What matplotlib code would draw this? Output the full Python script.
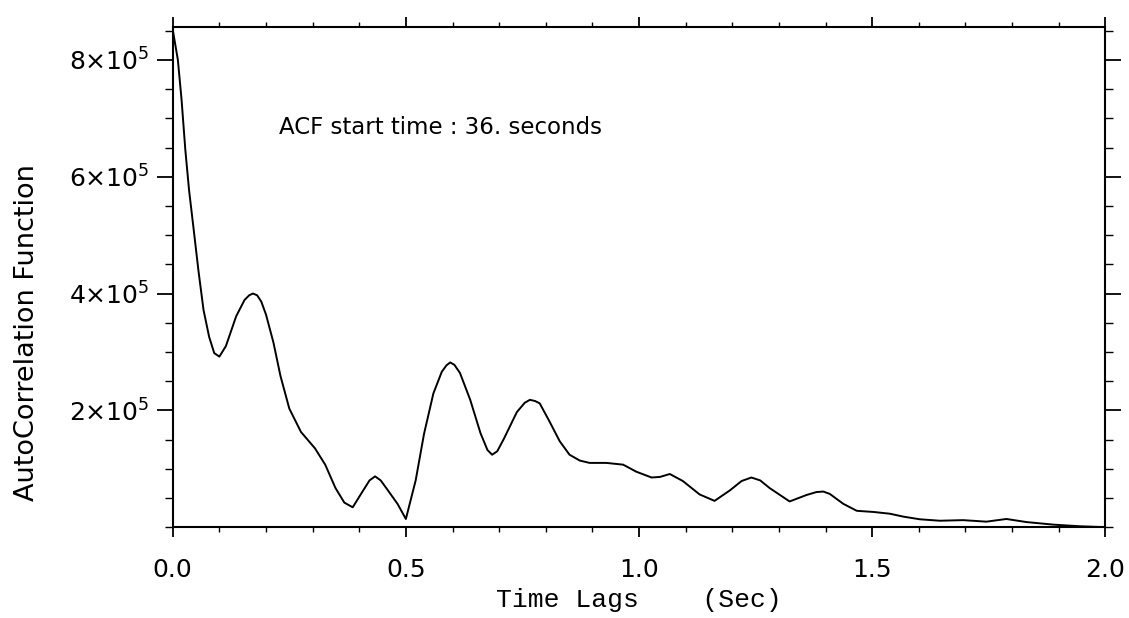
#!/usr/bin/env python

import numpy as np
import matplotlib
matplotlib.use('Agg')
import matplotlib.pyplot as plt
from matplotlib.ticker import MultipleLocator

# ACF curve (lag in sec, value in units of 1e5)
lagSec = [0.000, 0.011, 0.019, 0.027, 0.035, 0.045, 0.055, 0.066, 0.078, 0.089,
          0.100, 0.114, 0.136, 0.154, 0.164, 0.172, 0.181, 0.190, 0.200, 0.216,
          0.231, 0.250, 0.275, 0.305, 0.327, 0.349, 0.368, 0.386, 0.407, 0.422,
          0.434, 0.446, 0.457, 0.482, 0.500, 0.521, 0.539, 0.559, 0.577, 0.587,
          0.595, 0.604, 0.616, 0.638, 0.660, 0.675, 0.685, 0.696, 0.710, 0.738,
          0.755, 0.766, 0.777, 0.787, 0.808, 0.830, 0.851, 0.873, 0.894, 0.930,
          0.966, 0.994, 1.027, 1.045, 1.066, 1.094, 1.130, 1.162, 1.195, 1.220,
          1.241, 1.260, 1.280, 1.323, 1.359, 1.380, 1.395, 1.409, 1.438, 1.467,
          1.503, 1.538, 1.567, 1.602, 1.645, 1.695, 1.745, 1.788, 1.831, 1.889,
          1.946, 2.000]
acfVal = [8.52, 8.00, 7.31, 6.46, 5.77, 5.09, 4.40, 3.72, 3.26, 2.98,
          2.92, 3.10, 3.61, 3.89, 3.97, 4.00, 3.97, 3.86, 3.64, 3.16,
          2.59, 2.03, 1.63, 1.35, 1.07, 0.67, 0.42, 0.34, 0.61, 0.80,
          0.87, 0.80, 0.68, 0.40, 0.14, 0.80, 1.60, 2.29, 2.66, 2.77,
          2.82, 2.78, 2.64, 2.18, 1.61, 1.32, 1.24, 1.30, 1.51, 1.97,
          2.13, 2.18, 2.16, 2.12, 1.81, 1.47, 1.24, 1.14, 1.10, 1.10,
          1.07, 0.95, 0.85, 0.86, 0.91, 0.79, 0.56, 0.45, 0.63, 0.79,
          0.85, 0.80, 0.67, 0.44, 0.55, 0.60, 0.61, 0.57, 0.40, 0.28,
          0.26, 0.23, 0.18, 0.135, 0.11, 0.12, 0.094, 0.14, 0.087, 0.043,
          0.015, 0.0]

yTicks = [2e5, 4e5, 6e5, 8e5]
yTickLabels = [r'$2{\times}10^{5}$', r'$4{\times}10^{5}$',
               r'$6{\times}10^{5}$', r'$8{\times}10^{5}$']
xTicks = [0.0, 0.5, 1.0, 1.5, 2.0]
xTickLabels = ['0.0', '0.5', '1.0', '1.5', '2.0']

plt.rcParams['font.family'] = ['DejaVu Sans']
plt.rcParams['mathtext.fontset'] = 'dejavusans'

fig = plt.figure(figsize=(11.29, 6.18), dpi=100)
ax = fig.add_axes([0.153, 0.147, 0.826, 0.809])

ax.plot(lagSec, np.array(acfVal) * 1e5, color='black', linewidth=1.4,
        solid_joinstyle='round')

ax.set_xlim(0.0, 2.0)
ax.set_ylim(0.0, 8.56e5)

ax.set_xticks(xTicks)
ax.set_xticklabels(xTickLabels)
ax.set_yticks(yTicks)
ax.set_yticklabels(yTickLabels)
ax.xaxis.set_minor_locator(MultipleLocator(0.1))
ax.yaxis.set_minor_locator(MultipleLocator(0.5e5))

ax.tick_params(axis='x', which='major', direction='out', length=7, width=1.3,
               labelsize=18, pad=15, top=True)
ax.tick_params(axis='x', which='minor', direction='out', length=3.5, width=1.0, top=True)
ax.tick_params(axis='y', which='major', direction='out', length=11.5, width=1.3,
               labelsize=18, pad=5, right=True)
ax.tick_params(axis='y', which='minor', direction='out', length=6, width=1.0, right=True)

for spine in ax.spines.values():
    spine.set_linewidth(1.5)

ax.text(0.228, 6.85e5, 'ACF start time : 36. seconds', fontsize=16.5,
        ha='left', va='center')

ax.set_xlabel('Time Lags    (Sec)', family='Liberation Mono', fontsize=19, va='top')
ax.xaxis.set_label_coords(0.5, -0.122)
ax.set_ylabel('AutoCorrelation Function', fontsize=19.5, va='center')
ax.yaxis.set_label_coords(-0.156, 0.39)

fig.savefig('out.png', dpi=100)
